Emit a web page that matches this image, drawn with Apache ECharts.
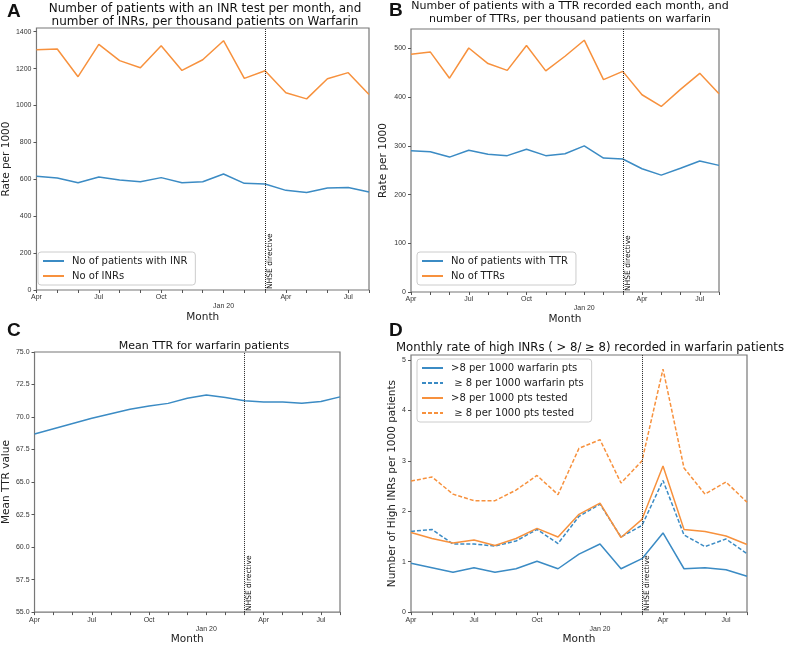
<!DOCTYPE html>
<html>
<head>
<meta charset="utf-8">
<script src="https://cdn.jsdelivr.net/npm/echarts@6/dist/echarts.min.js"></script>
<style>
  html, body { margin: 0; padding: 0; background: #fff; }
  #chart { width: 787px; height: 646px; }
</style>
</head>
<body>
<div id="chart"></div>
<script>
var months = ['Apr 2019', 'May 2019', 'Jun 2019', 'Jul 2019', 'Aug 2019', 'Sep 2019', 'Oct 2019', 'Nov 2019', 'Dec 2019',
  'Jan 2020', 'Feb 2020', 'Mar 2020', 'Apr 2020', 'May 2020', 'Jun 2020', 'Jul 2020', 'Aug 2020'];
var tickLabels = ['Apr', '', '', 'Jul', '', '', 'Oct', '', '', 'Jan 20', '', '', 'Apr', '', '', 'Jul', ''];
var directiveMonth = 'Mar 2020';

// A
var inrPatients = [616, 607, 581, 612, 596, 587, 609, 581, 587, 629, 578, 574, 540, 529, 553, 556, 531];
var inrCount = [1302, 1306, 1156, 1331, 1243, 1205, 1324, 1190, 1248, 1351, 1147, 1188, 1069, 1036, 1145, 1178, 1060];
// B
var ttrPatients = [290, 288, 277, 291, 283, 280, 293, 280, 284, 300, 275, 273, 253, 240, 254, 269, 260];
var ttrCount = [488, 493, 439, 501, 469, 455, 506, 454, 484, 517, 436, 453, 405, 381, 416, 449, 407];
// C
var meanTtr = [68.7, 69.1, 69.5, 69.9, 70.25, 70.6, 70.85, 71.05, 71.45, 71.7, 71.5, 71.25, 71.15, 71.15, 71.05, 71.2, 71.55];
// D
var warfGt8 = [0.97, 0.88, 0.79, 0.88, 0.79, 0.86, 1.01, 0.86, 1.15, 1.35, 0.86, 1.06, 1.57, 0.86, 0.88, 0.84, 0.71];
var warfGe8 = [1.60, 1.64, 1.35, 1.35, 1.31, 1.41, 1.64, 1.36, 1.90, 2.14, 1.49, 1.72, 2.61, 1.53, 1.30, 1.45, 1.16];
var testedGt8 = [1.58, 1.46, 1.37, 1.43, 1.32, 1.46, 1.66, 1.49, 1.94, 2.16, 1.48, 1.84, 2.90, 1.64, 1.60, 1.51, 1.34];
var testedGe8 = [2.60, 2.68, 2.34, 2.21, 2.21, 2.42, 2.71, 2.33, 3.25, 3.42, 2.56, 3.00, 4.82, 2.86, 2.34, 2.58, 2.18];

var blue = '#3b8bc4';
var orange = '#f7913d';
var font = '"DejaVu Sans", sans-serif';
var smallFont = '"Liberation Sans", Arial, sans-serif';

var chart = echarts.init(document.getElementById('chart'));

function xAxisFor(g) {
  return {
    type: 'category', gridIndex: g, data: months, boundaryGap: false,
    name: 'Month', nameLocation: 'middle', nameGap: 20,
    nameTextStyle: { fontSize: 10.5, fontFamily: font, color: '#222' },
    axisLine: { show: false },
    axisTick: { interval: 0, length: 3, lineStyle: { color: '#555' } },
    axisLabel: {
      interval: 0, margin: 3, fontSize: 7, fontFamily: smallFont, color: '#333', lineHeight: 9,
      formatter: function (v, i) {
        var t = tickLabels[i];
        return t.indexOf('Jan') === 0 ? '\n' + t : t;
      }
    },
    splitLine: { show: false }
  };
}

function yAxisFor(g, name, min, max, step, gap, dec) {
  return {
    type: 'value', gridIndex: g, min: min, max: max, interval: step,
    name: name, nameLocation: 'middle', nameGap: gap,
    nameTextStyle: { fontSize: 10.5, fontFamily: font, color: '#222' },
    axisLine: { show: false },
    axisTick: { show: true, length: 3, lineStyle: { color: '#555' } },
    axisLabel: {
      margin: 5, fontSize: 7, fontFamily: smallFont, color: '#333', showMaxLabel: max % step === 0,
      formatter: function (v) { return dec ? v.toFixed(dec) : v; }
    },
    splitLine: { show: false }
  };
}

var directive = {
  silent: true, symbol: 'none',
  lineStyle: { color: '#222', type: 'dotted', width: 1 },
  label: { formatter: 'NHSE directive', position: 'insideStartBottom', distance: 1, fontSize: 7.5, fontFamily: font, color: '#111' },
  data: [{ xAxis: directiveMonth }]
};

function line(name, g, data, color, dashed, mark) {
  var s = {
    name: name, type: 'line', xAxisIndex: g, yAxisIndex: g, data: data,
    symbol: 'none', smooth: false,
    lineStyle: { color: color, width: 1.5, type: dashed ? [4, 2] : 'solid' },
    itemStyle: { color: color }
  };
  if (mark) s.markLine = directive;
  return s;
}

function legendFor(names, left, top) {
  return {
    data: names, orient: 'vertical', left: left, top: top,
    itemWidth: 21, itemHeight: 8, itemGap: 5,
    padding: [4, 8, 4, 4],
    backgroundColor: '#fff', borderColor: '#ccc', borderWidth: 1, borderRadius: 3,
    itemStyle: { opacity: 0 },
    textStyle: { fontSize: 10, fontFamily: font, color: '#222', padding: [0, 0, 0, 3] }
  };
}

function txt(text, x, y, f, align, lh) {
  return {
    type: 'text', x: x, y: y, silent: true,
    style: { text: text, font: f, fill: '#111', textAlign: align, textVerticalAlign: 'top', lineHeight: lh || 14 }
  };
}

var option = {
  animation: false,
  backgroundColor: '#fff',
  grid: [
    { left: 32, top: 28, width: 337, height: 262, show: true, borderColor: '#777', borderWidth: 1.2 },
    { left: 411, top: 29, width: 308, height: 263, show: true, borderColor: '#777', borderWidth: 1.2 },
    { left: 33, top: 352, width: 307, height: 267, show: true, borderColor: '#777', borderWidth: 1.2 },
    { left: 411, top: 355, width: 336, height: 262, show: true, borderColor: '#777', borderWidth: 1.2 }
  ],
  xAxis: [xAxisFor(0), xAxisFor(1), xAxisFor(2), xAxisFor(3)],
  yAxis: [
    yAxisFor(0, 'Rate per 1000', 0, 1420, 200, 20, 0),
    yAxisFor(1, 'Rate per 1000', 0, 540, 100, 22, 0),
    yAxisFor(2, 'Mean TTR value', 55, 75, 2.5, 22, 1),
    yAxisFor(3, 'Number of High INRs per 1000 patients', 0, 5.1, 1, 11, 0)
  ],
  legend: [
    legendFor(['No of patients with INR', 'No of INRs'], 38, 252),
    legendFor(['No of patients with TTR', 'No of TTRs'], 417, 252),
    legendFor(['>8 per 1000 warfarin pts', ' \u2265 8 per 1000 warfarin pts', '>8 per 1000 pts tested', ' \u2265 8 per 1000 pts tested'], 417, 359)
  ],
  graphic: [
    txt('A', 7, 5, 'bold 19px "Liberation Sans", Arial', 'left'),
    txt('B', 389, 4, 'bold 19px "Liberation Sans", Arial', 'left'),
    txt('C', 7, 324, 'bold 19px "Liberation Sans", Arial', 'left'),
    txt('D', 389, 324, 'bold 19px "Liberation Sans", Arial', 'left'),
    txt('Number of patients with an INR test per month, and\nnumber of INRs, per thousand patients on Warfarin', 205, 2, '12px ' + font, 'center', 13),
    txt('Number of patients with a TTR recorded each month, and\nnumber of TTRs, per thousand patients on warfarin', 570, 0, '11px ' + font, 'center', 12.5),
    txt('Mean TTR for warfarin patients', 204, 339, '11px ' + font, 'center'),
    txt('Monthly rate of high INRs ( > 8/ \u2265 8) recorded in warfarin patients', 590, 341, '11.7px ' + font, 'center')
  ],
  series: [
    line('No of patients with INR', 0, inrPatients, blue, false, true),
    line('No of INRs', 0, inrCount, orange, false, false),
    line('No of patients with TTR', 1, ttrPatients, blue, false, true),
    line('No of TTRs', 1, ttrCount, orange, false, false),
    line('Mean TTR', 2, meanTtr, blue, false, true),
    line('>8 per 1000 warfarin pts', 3, warfGt8, blue, false, true),
    line(' \u2265 8 per 1000 warfarin pts', 3, warfGe8, blue, true, false),
    line('>8 per 1000 pts tested', 3, testedGt8, orange, false, false),
    line(' \u2265 8 per 1000 pts tested', 3, testedGe8, orange, true, false)
  ]
};

chart.setOption(option);
</script>
</body>
</html>
